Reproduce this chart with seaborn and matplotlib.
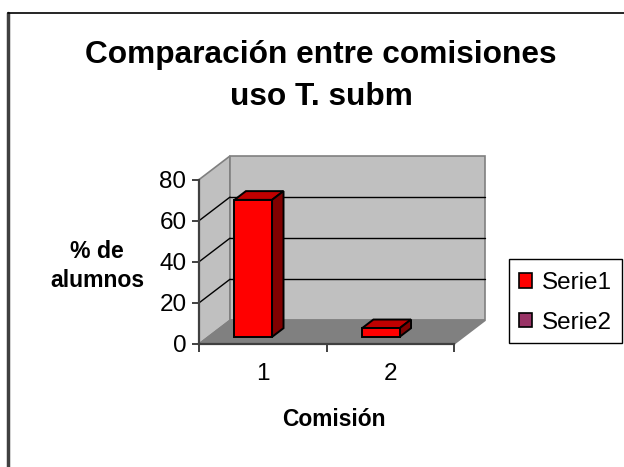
import numpy as np
import pandas as pd
import matplotlib
matplotlib.use("Agg")
import matplotlib.pyplot as plt
from matplotlib.patches import Polygon, Patch, Rectangle
from matplotlib.lines import Line2D
import seaborn as sns

# ---- data -------------------------------------------------------------
categories = ["1", "2"]
series_names = ["Serie1", "Serie2"]
serie1 = [66.7, 4.2]
serie2 = [np.nan, np.nan]
y_ticks = [0, 20, 40, 60, 80]

title_lines = ["Comparación entre comisiones", "uso T. subm"]
y_label = "% de\nalumnos"
x_label = "Comisión"

series_colors = {"Serie1": "#FF0000", "Serie2": "#993366"}
top_color = "#C00000"
side_color = "#800000"
wall_color = "#C0C0C0"
floor_color = "#808080"
edge_gray = "#808080"

df = pd.DataFrame({
    "Comisión": categories * len(series_names),
    "Serie": [s for s in series_names for _ in categories],
    "Valor": serie1 + serie2,
})

sns.set_style("white")
plt.rcParams["font.family"] = ["Liberation Sans", "DejaVu Sans"]
plt.rcParams["text.color"] = "black"
plt.rcParams["xtick.labelcolor"] = "black"
plt.rcParams["ytick.labelcolor"] = "black"

W, H = 624, 467
fig = plt.figure(figsize=(W / 100, H / 100), dpi=100)
fig.patch.set_facecolor("white")

# plot area (front plane plus the oblique depth)
ax = fig.add_axes([199 / W, 1 - 344 / H, 286 / W, 188 / H])
ax.set_facecolor("none")

# oblique depth offset in data units
DX, DY = 0.243, 11.5
YMAX = y_ticks[-1]
X0, X1 = -0.5, len(categories) - 0.5

sns.barplot(data=df, x="Comisión", y="Valor", hue="Serie",
            hue_order=series_names, order=categories,
            palette=series_colors, width=0.59, edgecolor="black",
            linewidth=1.4, saturation=1, legend=False, err_kws={"linewidth": 0},
            ax=ax)

bars = [p for p in ax.patches if isinstance(p, Rectangle)]

# ---- walls, floor and gridlines --------------------------------------
left_wall = Polygon([(X0, 0), (X0, YMAX), (X0 + DX, YMAX + DY), (X0 + DX, DY)],
                    closed=True, facecolor=wall_color, edgecolor=edge_gray,
                    linewidth=1.2, zorder=0.5, clip_on=False)
back_wall = Polygon([(X0 + DX, DY), (X0 + DX, YMAX + DY), (X1 + DX, YMAX + DY), (X1 + DX, DY)],
                    closed=True, facecolor=wall_color, edgecolor=edge_gray,
                    linewidth=1.2, zorder=0.5, clip_on=False)
floor = Polygon([(X0, 0), (X1, 0), (X1 + DX, DY), (X0 + DX, DY)],
                closed=True, facecolor=floor_color, edgecolor=edge_gray,
                linewidth=1.2, zorder=0.6, clip_on=False)
for poly in (left_wall, back_wall, floor):
    ax.add_patch(poly)

for t in y_ticks[1:-1]:
    ax.plot([X0 + DX, X1 + DX], [t + DY, t + DY], color="black", lw=1.0,
            zorder=0.7, clip_on=False)
    ax.plot([X0, X0 + DX], [t, t + DY], color="black", lw=1.0,
            zorder=0.7, clip_on=False)

# ---- extrude the bars into boxes -------------------------------------
F0, BD = 0.3, 0.37   # depth of front face, depth of box
for rect in bars:
    h = rect.get_height()
    if not np.isfinite(h):
        continue
    x0, w = rect.get_x(), rect.get_width()
    xa, ya = x0 + F0 * DX, F0 * DY
    rect.set_x(xa)
    rect.set_y(ya)
    rect.set_zorder(3)
    rect.set_clip_on(False)
    top = Polygon([(xa, ya + h), (xa + w, ya + h),
                   (xa + w + BD * DX, ya + h + BD * DY), (xa + BD * DX, ya + h + BD * DY)],
                  closed=True, facecolor=top_color, edgecolor="black",
                  linewidth=1.4, zorder=2.9, clip_on=False)
    side = Polygon([(xa + w, ya), (xa + w + BD * DX, ya + BD * DY),
                    (xa + w + BD * DX, ya + h + BD * DY), (xa + w, ya + h)],
                   closed=True, facecolor=side_color, edgecolor="black",
                   linewidth=1.4, zorder=2.9, clip_on=False)
    ax.add_patch(top)
    ax.add_patch(side)

# ---- axes ------------------------------------------------------------
ax.set_xlim(X0, X1 + DX)
ax.set_ylim(0, YMAX + DY)
ax.set_xlabel("")
ax.set_ylabel("")
for s in ("top", "right"):
    ax.spines[s].set_visible(False)
axis_col = "#404040"
ax.spines["left"].set_bounds(0, YMAX)
ax.spines["bottom"].set_bounds(X0, X1)
for s in ("left", "bottom"):
    ax.spines[s].set_color(axis_col)
    ax.spines[s].set_linewidth(1.6)
    ax.spines[s].set_zorder(1)

ax.set_yticks(y_ticks)
ax.set_yticklabels([str(t) for t in y_ticks])
ax.tick_params(axis="y", which="major", direction="out", length=5, width=1.4,
               color=axis_col, labelcolor="black", labelsize=17.5, pad=4, left=True)

ax.set_xticks(np.arange(X0, X1 + 0.01, 1.0))
ax.set_xticklabels([])
ax.set_xticks(np.arange(len(categories)), minor=True)
ax.set_xticklabels(categories, minor=True)
ax.tick_params(axis="x", which="major", direction="out", length=6, width=1.4,
               color=axis_col, bottom=True)
ax.tick_params(axis="x", which="minor", length=0, labelsize=17.5,
               labelcolor="black", pad=14)

# ---- texts -----------------------------------------------------------
fig.text(321 / W, 1 - 55 / H, title_lines[0], ha="center", va="center",
         fontsize=22.8, fontweight="bold", color="black")
fig.text(321 / W, 1 - 97 / H, title_lines[1], ha="center", va="center",
         fontsize=22.8, fontweight="bold", color="black")
fig.text(97 / W, 1 - 266 / H, y_label, ha="center", va="center",
         fontsize=16.6, fontweight="bold", linespacing=1.3, color="black")
fig.text(334 / W, 1 - 420 / H, x_label, ha="center", va="center",
         fontsize=16.4, fontweight="bold", color="black")

# ---- legend (entries plus a plain rectangular box) -------------------
handles = [Patch(facecolor=series_colors[s], edgecolor="black", linewidth=1.2)
           for s in series_names]
leg = fig.legend(handles, series_names, loc="upper left",
                 bbox_to_anchor=(509 / W, 1 - 262.5 / H), borderaxespad=0,
                 fontsize=17.5, frameon=False,
                 handlelength=0.55, handleheight=0.55, handletextpad=0.4,
                 labelspacing=0.72, borderpad=0.4)
for txt in leg.get_texts():
    txt.set_color("black")
fig.add_artist(Rectangle((509 / W, 1 - 343 / H), 113 / W, 84 / H,
                         transform=fig.transFigure, facecolor="none",
                         edgecolor="black", linewidth=1.0))

# ---- outer chart frame -----------------------------------------------
fig.add_artist(Line2D([8 / W, 8 / W], [0, 1 - 13 / H], color="#404040", lw=2.5,
                      transform=fig.transFigure))
fig.add_artist(Line2D([8 / W, 1], [1 - 13 / H, 1 - 13 / H], color="black", lw=1.2,
                      transform=fig.transFigure))

fig.savefig("out.png", dpi=100, facecolor="white")
